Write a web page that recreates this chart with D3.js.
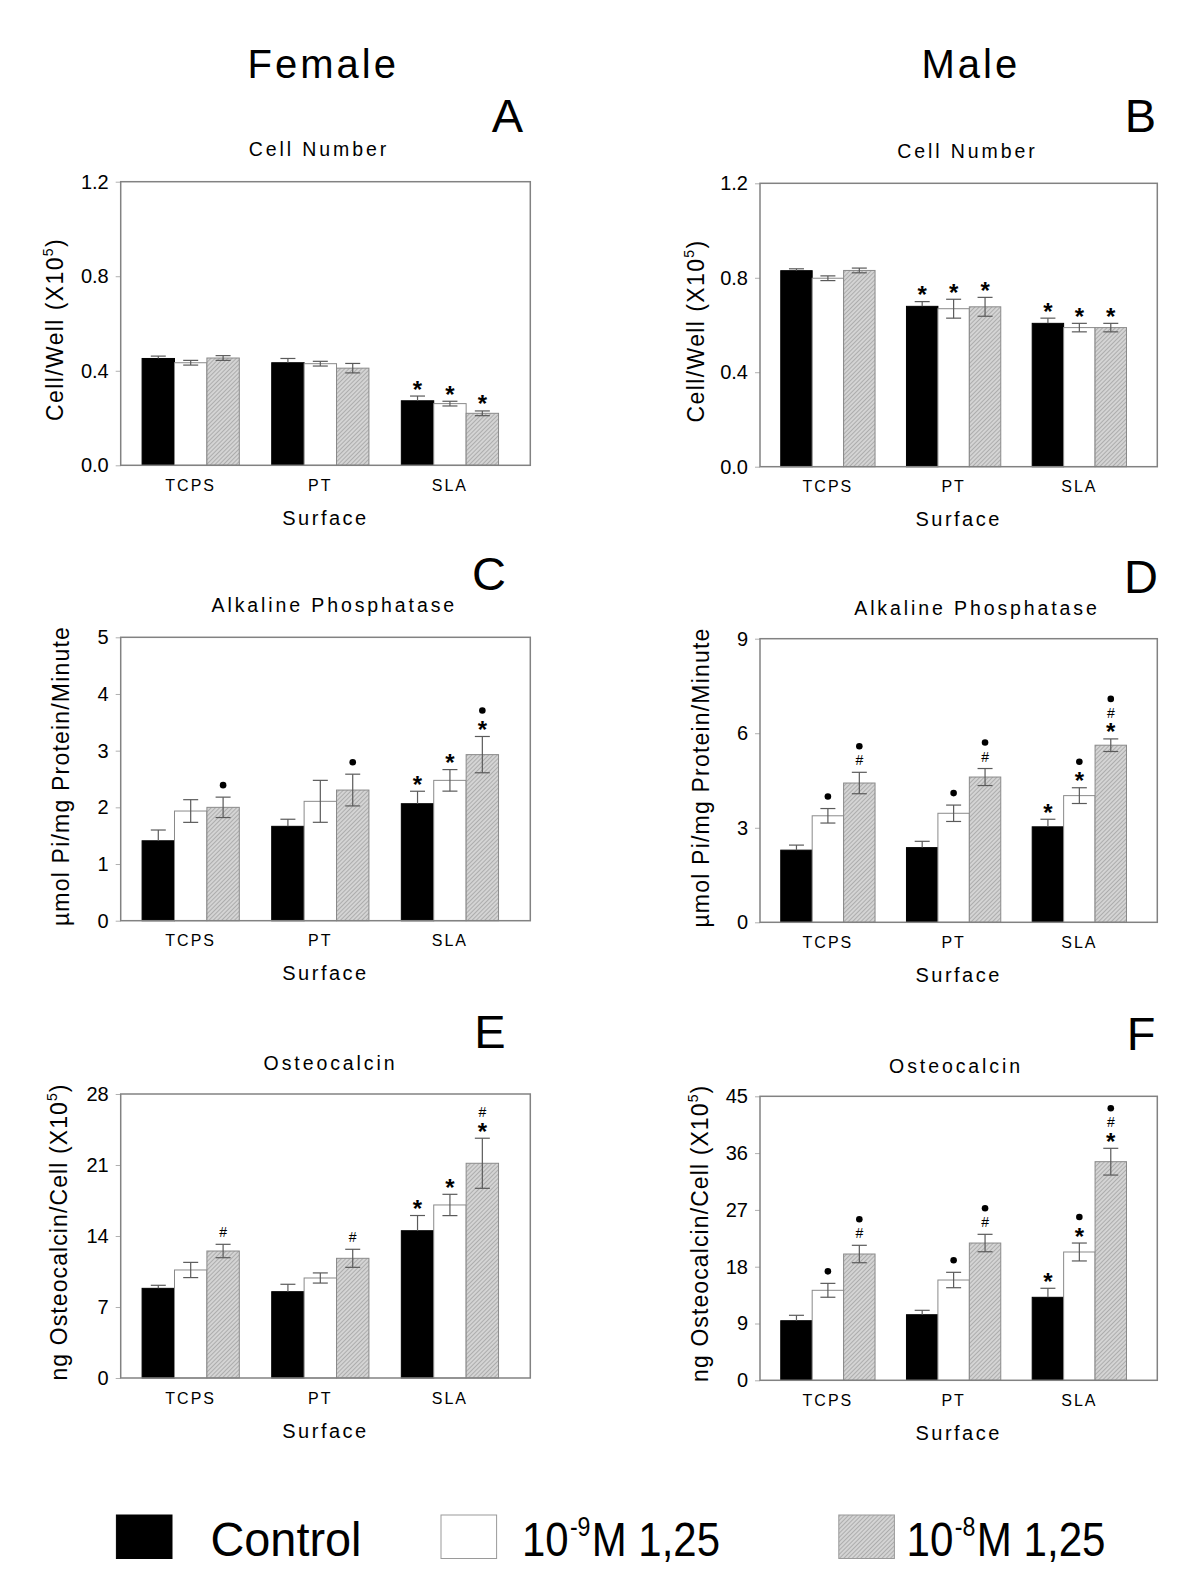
<!DOCTYPE html>
<html>
<head>
<meta charset="utf-8">
<script src="https://cdn.jsdelivr.net/npm/d3@7"></script>
<style>
  html, body { margin: 0; padding: 0; background: #fff; }
  svg { display: block; }
  text { font-family: "Liberation Sans", Arial, Helvetica, sans-serif; fill: #000; }
</style>
</head>
<body>
<svg id="chart" width="1200" height="1586"></svg>
<script>
// ---------------- DATA ----------------
const categories = ["TCPS", "PT", "SLA"];
const seriesNames = ["Control", "10-9M 1,25", "10-8M 1,25"];

// each array: [Control, 10^-9 M, 10^-8 M] x [TCPS, PT, SLA]
const cellFemaleMean = [[0.452, 0.434, 0.273], [0.434, 0.430, 0.261], [0.454, 0.411, 0.220]];
const cellFemaleErr  = [[0.010, 0.018, 0.020], [0.010, 0.010, 0.010], [0.010, 0.020, 0.010]];
const cellMaleMean   = [[0.830, 0.679, 0.607], [0.798, 0.669, 0.589], [0.831, 0.677, 0.589]];
const cellMaleErr    = [[0.008, 0.020, 0.022], [0.010, 0.040, 0.018], [0.010, 0.040, 0.018]];
const alpFemaleMean  = [[1.41, 1.665, 2.064], [1.935, 2.106, 2.476], [2.00, 2.305, 2.93]];
const alpFemaleErr   = [[0.19, 0.125, 0.22], [0.20, 0.37, 0.19], [0.18, 0.28, 0.32]];
const alpMaleMean    = [[2.29, 2.37, 3.03], [3.38, 3.46, 4.02], [4.42, 4.61, 5.62]];
const alpMaleErr     = [[0.16, 0.20, 0.24], [0.23, 0.26, 0.25], [0.34, 0.27, 0.20]];
const ocFemaleMean   = [[8.84, 8.51, 14.52], [10.65, 9.86, 17.06], [12.52, 11.80, 21.17]];
const ocFemaleErr    = [[0.30, 0.73, 1.50], [0.75, 0.50, 1.05], [0.66, 0.89, 2.47]];
const ocMaleMean     = [[9.44, 10.39, 13.15], [14.26, 15.89, 20.33], [20.01, 21.75, 34.64]];
const ocMaleErr      = [[0.86, 0.70, 1.43], [1.10, 1.22, 1.42], [1.38, 1.38, 2.12]];

// significance marks, stacked bottom -> top
const cellFemaleSig = [["", "", "*"], ["", "", "*"], ["", "", "*"]];
const cellMaleSig   = [["", "*", "*"], ["", "*", "*"], ["", "*", "*"]];
const alpFemaleSig  = [["", "", "*"], ["", "", "*"], ["•", "•", "*•"]];
const alpMaleSig    = [["", "", "*"], ["•", "•", "*•"], ["#•", "#•", "*#•"]];
const ocFemaleSig   = [["", "", "*"], ["", "", "*"], ["#", "#", "*#"]];
const ocMaleSig     = [["", "", "*"], ["•", "•", "*•"], ["#•", "#•", "*#•"]];

const cellTicks = [0, 0.4, 0.8, 1.2];
const alpFemaleTicks = [0, 1, 2, 3, 4, 5];
const alpMaleTicks = [0, 3, 6, 9];
const ocFemaleTicks = [0, 7, 14, 21, 28];
const ocMaleTicks = [0, 9, 18, 27, 36, 45];

// ---------------- DRAW ----------------
const svg = d3.select("#chart");
const defs = svg.append("defs");
const pat = defs.append("pattern").attr("id", "hatch").attr("patternUnits", "userSpaceOnUse")
  .attr("width", 3).attr("height", 3).attr("patternTransform", "rotate(45)");
pat.append("rect").attr("width", 3).attr("height", 3).attr("fill", "#d4d4d4");
pat.append("line").attr("x1", 0).attr("y1", 0).attr("x2", 0).attr("y2", 3)
  .attr("stroke", "#8c8c8c").attr("stroke-width", 1.1);

const fills = ["#000", "#fff", "url(#hatch)"];
const strokes = ["#000", "#8a8a8a", "#8a8a8a"];

function panel(o) {
  const g = svg.append("g");
  const x = d3.scaleLinear().domain([-0.54, 2.62]).range([o.x0, o.x1]);
  const y = d3.scaleLinear().domain([0, o.ymax]).range([o.y1, o.y0]);
  const bw = 0.25;

  const ax = g.append("g").attr("transform", `translate(${o.x0},0)`)
    .call(d3.axisLeft(y).tickValues(o.ticks).tickFormat(o.fmt).tickSize(5).tickSizeOuter(0).tickPadding(7));
  ax.select(".domain").remove();
  ax.selectAll(".tick line").attr("stroke", "#b0b0b0");
  ax.selectAll(".tick text").attr("font-size", 20).attr("font-family", "Liberation Sans, Arial, sans-serif").attr("fill", "#000");

  o.mean.forEach((ser, s) => {
    ser.forEach((v, c) => {
      const xl = x(c - 0.375 + s * bw), xr = x(c - 0.375 + (s + 1) * bw);
      g.append("rect").attr("x", xl).attr("y", y(v)).attr("width", xr - xl).attr("height", y(0) - y(v))
        .attr("fill", fills[s]).attr("stroke", strokes[s]).attr("stroke-width", 1);
    });
  });
  o.mean.forEach((ser, s) => {
    ser.forEach((v, c) => {
      const xc = x(c - 0.375 + (s + 0.5) * bw);
      const e = o.err[s][c];
      const top = y(v + e), bot = s === 0 ? y(v) : y(v - e);
      const eg = g.append("g").attr("stroke", "#5a5a5a").attr("stroke-width", 1.2);
      eg.append("line").attr("x1", xc).attr("x2", xc).attr("y1", top).attr("y2", bot);
      eg.append("line").attr("x1", xc - 7.5).attr("x2", xc + 7.5).attr("y1", top).attr("y2", top);
      if (s !== 0) eg.append("line").attr("x1", xc - 7.5).attr("x2", xc + 7.5).attr("y1", bot).attr("y2", bot);
      const marks = Array.from(o.sig[s][c]);
      let cy = top - 12;
      marks.forEach((m, k) => {
        if (k > 0) cy -= 14;
        if (m === "*") {
          g.append("text").attr("x", xc).attr("y", cy + 13.5).attr("text-anchor", "middle")
            .attr("font-size", 24).attr("font-weight", "bold").text("*");
        } else if (m === "#") {
          g.append("text").attr("x", xc).attr("y", cy + 5).attr("text-anchor", "middle")
            .attr("font-size", 14).text("#");
        } else {
          g.append("circle").attr("cx", xc).attr("cy", cy).attr("r", 3.3).attr("fill", "#000");
        }
      });
    });
  });

  g.append("rect").attr("x", o.x0).attr("y", o.y0).attr("width", o.x1 - o.x0).attr("height", o.y1 - o.y0)
    .attr("fill", "none").attr("stroke", "#828282").attr("stroke-width", 1.5);

  categories.forEach((c, i) => {
    g.append("text").attr("x", x(i)).attr("y", o.y1 + 25.5).attr("text-anchor", "middle")
      .attr("font-size", 16).attr("letter-spacing", 2).text(c);
  });
  g.append("text").attr("x", (o.x0 + o.x1) / 2).attr("y", o.y1 + 59.5).attr("text-anchor", "middle")
    .attr("font-size", 20).attr("letter-spacing", 2.5).text("Surface");

  g.append("text").attr("x", o.tx).attr("y", o.ty).attr("text-anchor", "middle")
    .attr("font-size", 19.5).attr("letter-spacing", 2.9).text(o.title);
  g.append("text").attr("x", o.lx).attr("y", o.ly).attr("text-anchor", "middle")
    .attr("font-size", 47).text(o.letter);

  const yl = g.append("text").attr("transform", `translate(${o.ylx},${(o.y0 + o.y1) / 2 + o.yld}) rotate(-90)`)
    .attr("text-anchor", "middle").attr("font-size", 23).attr("letter-spacing", o.yls);
  yl.append("tspan").text(o.ylabel);
  if (o.sup) {
    yl.append("tspan").attr("font-size", 14).attr("dy", -10).text("5");
    yl.append("tspan").attr("dy", 10).text(")");
  }
}

const fmt1 = d3.format(".1f"), fmt0 = d3.format("d");

panel({ x0: 120.7, x1: 530.3, y0: 181.7, y1: 465.3, ymax: 1.2, ticks: cellTicks, fmt: fmt1,
  mean: cellFemaleMean, err: cellFemaleErr, sig: cellFemaleSig,
  title: "Cell Number", tx: 319, ty: 155.7, letter: "A", lx: 507.5, ly: 132.3,
  ylabel: "Cell/Well (X10", sup: true, ylx: 62.5, yld: 6, yls: 1.4 });
panel({ x0: 760, x1: 1157.3, y0: 183.3, y1: 466.7, ymax: 1.2, ticks: cellTicks, fmt: fmt1,
  mean: cellMaleMean, err: cellMaleErr, sig: cellMaleSig,
  title: "Cell Number", tx: 967.5, ty: 157.7, letter: "B", lx: 1140.5, ly: 131.7,
  ylabel: "Cell/Well (X10", sup: true, ylx: 704, yld: 6, yls: 1.4 });
panel({ x0: 120.7, x1: 530.3, y0: 637.3, y1: 920.7, ymax: 5, ticks: alpFemaleTicks, fmt: fmt0,
  mean: alpFemaleMean, err: alpFemaleErr, sig: alpFemaleSig,
  title: "Alkaline Phosphatase", tx: 334.3, ty: 612, letter: "C", lx: 489, ly: 590,
  ylabel: "µmol Pi/mg Protein/Minute", sup: false, ylx: 69, yld: -3, yls: 1.2 });
panel({ x0: 760, x1: 1157.3, y0: 638.7, y1: 922.3, ymax: 9, ticks: alpMaleTicks, fmt: fmt0,
  mean: alpMaleMean, err: alpMaleErr, sig: alpMaleSig,
  title: "Alkaline Phosphatase", tx: 977, ty: 615, letter: "D", lx: 1141, ly: 593,
  ylabel: "µmol Pi/mg Protein/Minute", sup: false, ylx: 709, yld: -3, yls: 1.2 });
panel({ x0: 120.7, x1: 530.3, y0: 1094, y1: 1378, ymax: 28, ticks: ocFemaleTicks, fmt: fmt0,
  mean: ocFemaleMean, err: ocFemaleErr, sig: ocFemaleSig,
  title: "Osteocalcin", tx: 330.5, ty: 1070, letter: "E", lx: 490, ly: 1048,
  ylabel: "ng Osteocalcin/Cell (X10", sup: true, ylx: 66.5, yld: -4, yls: 1.1 });
panel({ x0: 760, x1: 1157.3, y0: 1096.3, y1: 1380.3, ymax: 45, ticks: ocMaleTicks, fmt: fmt0,
  mean: ocMaleMean, err: ocMaleErr, sig: ocMaleSig,
  title: "Osteocalcin", tx: 956, ty: 1073.3, letter: "F", lx: 1141, ly: 1050,
  ylabel: "ng Osteocalcin/Cell (X10", sup: true, ylx: 707.5, yld: -5, yls: 1.1 });

svg.append("text").attr("x", 323.3).attr("y", 77.7).attr("text-anchor", "middle")
  .attr("font-size", 40).attr("letter-spacing", 3).text("Female");
svg.append("text").attr("x", 970.8).attr("y", 78.3).attr("text-anchor", "middle")
  .attr("font-size", 40).attr("letter-spacing", 3).text("Male");

// legend: pieces laid out one after another, then condensed horizontally
const legX = [116.4, 441, 838.8];
const legTextX = [210.5, 522, 906.6];
const legTextLen = [151, 198, 199];
const leg = svg.append("g");
seriesNames.forEach((n, i) => {
  leg.append("rect").attr("x", legX[i]).attr("y", 1515).attr("width", 55.6).attr("height", 43.5)
    .attr("fill", fills[i]).attr("stroke", i === 0 ? "#000" : "#9a9a9a").attr("stroke-width", 1);
  const tg = leg.append("g");
  const pieces = i === 0
    ? [{ t: n, fs: 49, dy: 0 }]
    : [{ t: "10", fs: 49, dy: 0 }, { t: n.slice(2, 4), fs: 27, dy: -20 }, { t: n.slice(4), fs: 49, dy: 0 }];
  let cx = 0;
  pieces.forEach((p, k) => {
    const t = tg.append("text").attr("x", cx).attr("y", p.dy).attr("font-size", p.fs).text(p.t);
    cx += t.node().getComputedTextLength() + (k < pieces.length - 1 ? 1.5 : 0);
  });
  const sx = legTextLen[i] / cx;
  tg.attr("transform", `translate(${legTextX[i]},1556) scale(${sx},1)`);
});
</script>
</body>
</html>
